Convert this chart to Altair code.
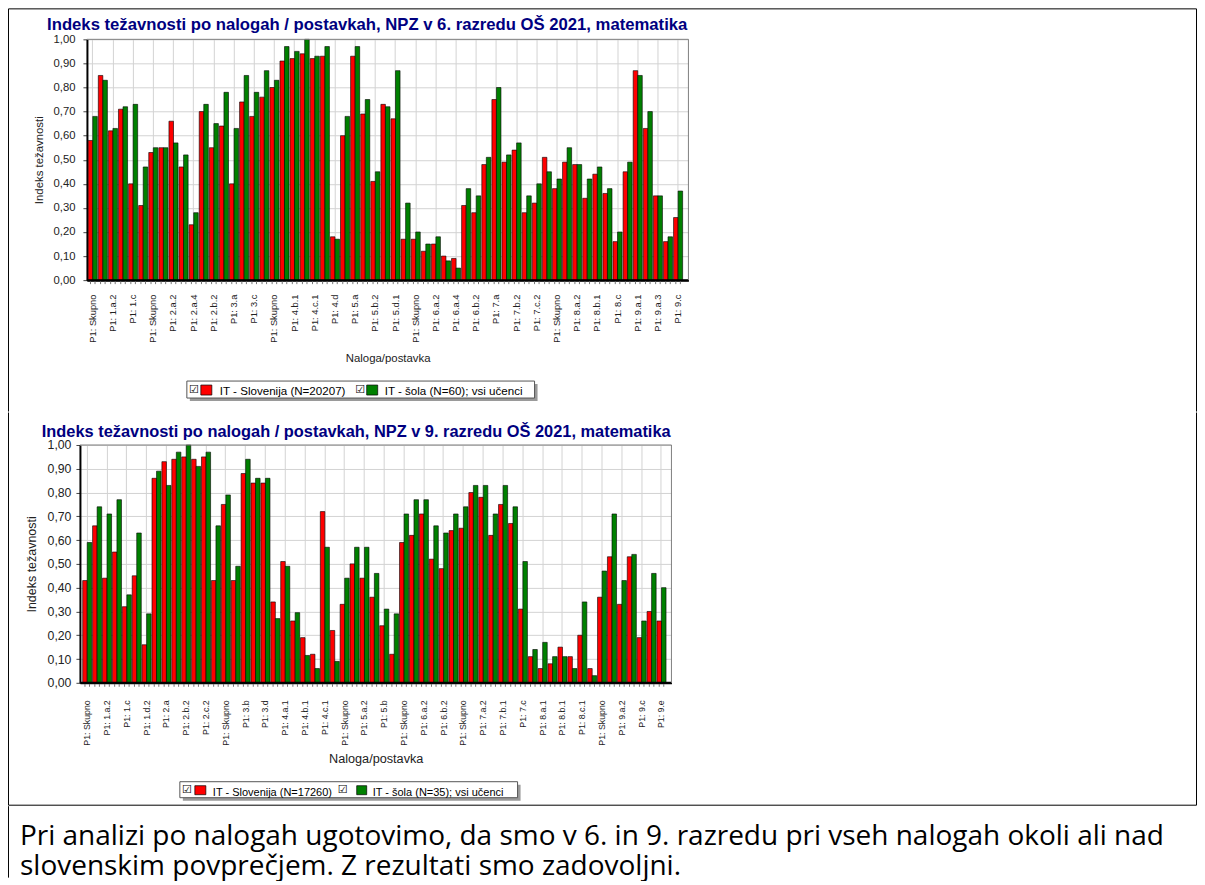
import json
import altair as alt
import pandas as pd

# ---------------- data ----------------
top_title = "Indeks težavnosti po nalogah / postavkah, NPZ v 6. razredu OŠ 2021, matematika"
bottom_title = "Indeks težavnosti po nalogah / postavkah, NPZ v 9. razredu OŠ 2021, matematika"
y_title = "Indeks težavnosti"
x_title = "Naloga/postavka"
series = ["Slovenija", "šola"]
top_legend = ["IT - Slovenija (N=20207)", "IT - šola (N=60); vsi učenci"]
bottom_legend = ["IT - Slovenija (N=17260)", "IT - šola (N=35); vsi učenci"]
note_lines = [
    "Pri analizi po nalogah ugotovimo, da smo v 6. in 9. razredu pri vseh nalogah okoli ali nad",
    "slovenskim povprečjem. Z rezultati smo zadovoljni.",
]
y_ticks = [round(i * 0.1, 1) for i in range(11)]

top_tick_labels = ["P1: Skupno", "P1: 1.a.2", "P1: 1.c", "P1: Skupno", "P1: 2.a.2", "P1: 2.a.4",
                   "P1: 2.b.2", "P1: 3.a", "P1: 3.c", "P1: Skupno", "P1: 4.b.1", "P1: 4.c.1",
                   "P1: 4.d", "P1: 5.a", "P1: 5.b.2", "P1: 5.d.1", "P1: Skupno", "P1: 6.a.2",
                   "P1: 6.a.4", "P1: 6.b.2", "P1: 7.a", "P1: 7.b.2", "P1: 7.c.2", "P1: Skupno",
                   "P1: 8.a.2", "P1: 8.b.1", "P1: 8.c", "P1: 9.a.1", "P1: 9.a.3", "P1: 9.c"]
top_slovenija = [0.58, 0.85, 0.62, 0.71, 0.40, 0.31, 0.53, 0.55, 0.66, 0.47, 0.23, 0.70, 0.55, 0.64,
                 0.40, 0.74, 0.68, 0.76, 0.80, 0.91, 0.92, 0.94, 0.92, 0.93, 0.18, 0.60, 0.93, 0.69,
                 0.41, 0.73, 0.67, 0.17, 0.17, 0.12, 0.15, 0.10, 0.09, 0.31, 0.28, 0.48, 0.75, 0.49,
                 0.54, 0.28, 0.32, 0.51, 0.38, 0.49, 0.48, 0.34, 0.44, 0.36, 0.16, 0.45, 0.87, 0.63,
                 0.35, 0.16, 0.26]
top_sola = [0.68, 0.83, 0.63, 0.72, 0.73, 0.47, 0.55, 0.55, 0.57, 0.52, 0.28, 0.73, 0.65, 0.78,
            0.63, 0.85, 0.78, 0.87, 0.83, 0.97, 0.95, 1.00, 0.93, 0.97, 0.17, 0.68, 0.97, 0.75,
            0.45, 0.72, 0.87, 0.32, 0.20, 0.15, 0.18, 0.08, 0.05, 0.38, 0.35, 0.51, 0.80, 0.52,
            0.57, 0.35, 0.40, 0.45, 0.42, 0.55, 0.48, 0.42, 0.47, 0.38, 0.20, 0.49, 0.85, 0.70,
            0.35, 0.18, 0.37]

bottom_tick_labels = ["P1: Skupno", "P1: 1.a.2", "P1: 1.c", "P1: 1.d.2", "P1: 2.a", "P1: 2.b.2",
                      "P1: 2.c.2", "P1: Skupno", "P1: 3.b", "P1: 3.d", "P1: 4.a.1", "P1: 4.b.1",
                      "P1: 4.c.1", "P1: Skupno", "P1: 5.a.2", "P1: 5.b", "P1: Skupno", "P1: 6.a.2",
                      "P1: 6.b.2", "P1: Skupno", "P1: 7.a.2", "P1: 7.b.1", "P1: 7.c", "P1: 8.a.1",
                      "P1: 8.b.1", "P1: 8.c.1", "P1: Skupno", "P1: 9.a.2", "P1: 9.c", "P1: 9.e"]
bottom_slovenija = [0.43, 0.66, 0.44, 0.55, 0.32, 0.45, 0.16, 0.86, 0.93, 0.94, 0.95, 0.94, 0.95,
                    0.43, 0.75, 0.43, 0.88, 0.84, 0.84, 0.34, 0.51, 0.26, 0.19, 0.12, 0.72, 0.22,
                    0.33, 0.50, 0.44, 0.36, 0.24, 0.12, 0.59, 0.62, 0.71, 0.52, 0.48, 0.64, 0.65,
                    0.80, 0.78, 0.62, 0.75, 0.67, 0.31, 0.11, 0.06, 0.08, 0.15, 0.11, 0.20, 0.06,
                    0.36, 0.53, 0.33, 0.53, 0.19, 0.30, 0.26]
bottom_sola = [0.59, 0.74, 0.71, 0.77, 0.37, 0.63, 0.29, 0.89, 0.83, 0.97, 1.00, 0.91, 0.97,
               0.66, 0.79, 0.49, 0.94, 0.86, 0.86, 0.27, 0.49, 0.295, 0.115, 0.06, 0.57, 0.09,
               0.44, 0.57, 0.57, 0.46, 0.31, 0.29, 0.71, 0.77, 0.77, 0.66, 0.63, 0.71, 0.74,
               0.83, 0.83, 0.71, 0.83, 0.74, 0.51, 0.14, 0.17, 0.11, 0.11, 0.06, 0.34, 0.03,
               0.47, 0.71, 0.43, 0.54, 0.26, 0.46, 0.40]

# ---------------- styling ----------------
RED = "#ff0000"
GREEN = "#008000"
NAVY = "#000080"
FONT = "Liberation Sans"
GRID = "#d3d3d3"
TXT = "#222222"
one = pd.DataFrame({"k": [0]})


def long_df(a, b):
    rows = []
    for i, (r, g) in enumerate(zip(a, b)):
        rows.append({"idx": i, "s": series[0], "v": r})
        rows.append({"idx": i, "s": series[1], "v": g})
    return pd.DataFrame(rows)


def hrule(x1, x2, y, color="black", w=1.0):
    return alt.Chart(one).mark_rule(color=color, strokeWidth=w).encode(
        x=alt.value(x1), x2=alt.value(x2), y=alt.value(y))


def vrule(x, y1, y2, color="black", w=1.0):
    return alt.Chart(one).mark_rule(color=color, strokeWidth=w).encode(
        x=alt.value(x), y=alt.value(y1), y2=alt.value(y2))


def box(x1, y1, x2, y2, fill, stroke=None, w=1.0):
    kw = dict(fill=fill)
    if stroke:
        kw.update(stroke=stroke, strokeWidth=w)
    return alt.Chart(one).mark_rect(**kw).encode(
        x=alt.value(x1), x2=alt.value(x2), y=alt.value(y1), y2=alt.value(y2))


def label(x, y, s, size, font=FONT, color="black", align="left", baseline="alphabetic",
          weight="normal"):
    return alt.Chart(one).mark_text(text=s, font=font, fontSize=size, color=color, align=align,
                                    baseline=baseline, fontWeight=weight).encode(
        x=alt.value(x), y=alt.value(y))


LEFT = -78.5
RIGHT = 1110.5


def panel(p):
    df = long_df(p["red"], p["green"])
    W, H = p["W"], p["H"]
    xr = p["xrange"]
    arr = json.dumps(p["labels"], ensure_ascii=False)
    x_enc = alt.X(
        "idx:O", title=x_title,
        scale=alt.Scale(range=xr, paddingInner=0.1, paddingOuter=p["po"], align=p["align"]),
        axis=alt.Axis(values=list(range(0, len(p["red"]), 2)),
                      labelExpr=f"{arr}[datum.value/2]",
                      labelAngle=-90, labelFont=FONT, labelFontSize=p["xlab_fs"],
                      labelColor=TXT, labelPadding=p["xlab_pad"], labelOverlap=False,
                      ticks=False, tickSize=0, bandPosition=0.5,
                      domain=True, domainColor="black", domainWidth=2,
                      grid=True, gridColor=GRID, gridWidth=1,
                      titleFont=FONT, titleFontSize=p["xt_fs"], titleFontWeight="normal",
                      titleColor=TXT, titlePadding=p["xt_pad"]))
    xo_enc = alt.XOffset("s:N", sort=series, scale=alt.Scale(paddingInner=0, paddingOuter=0))
    y_enc = alt.Y(
        "v:Q", title=y_title, scale=alt.Scale(domain=[0, 1], nice=False),
        axis=alt.Axis(values=y_ticks, labelExpr="replace(format(datum.value, '.2f'), '.', ',')",
                      offset=p["yoff"], domainColor="black", domainWidth=2,
                      tickColor="#444", tickSize=4, labelPadding=p["ylab_pad"],
                      labelFont=FONT, labelFontSize=p["ylab_fs"], labelColor=TXT,
                      grid=True, gridColor=GRID, gridWidth=1,
                      titleFont=FONT, titleFontSize=p["yt_fs"], titleFontWeight="normal",
                      titleColor=TXT, titlePadding=p["yt_pad"]))
    bars = alt.Chart(df).mark_bar(stroke="black", strokeWidth=0.6).encode(
        x=x_enc, xOffset=xo_enc, y=y_enc,
        color=alt.Color("s:N", scale=alt.Scale(domain=series, range=[RED, GREEN]), legend=None))
    minor = alt.Chart(df).mark_rule(color="#777777", strokeWidth=1).encode(
        x=x_enc, xOffset=xo_enc, y=alt.value(H + 1), y2=alt.value(H + 4))

    lg = p["legend"]
    layers = [
        vrule(LEFT, p["by1"], p["by2"]),
        label(p["tx"], p["ty"], p["title"], p["t_fs"], color=NAVY, align="center", weight="bold"),
        bars,
        minor,
        hrule(xr[0], xr[1], H, "black", 2),
        hrule(xr[0], xr[1], 0, "#808080", 1),
        vrule(xr[1], 0, H, "#808080", 1),
        # legend
        box(lg["x1"] + 3, lg["y1"] + 3, lg["x2"] + 3, lg["y2"] + 3, "#9a9a9a"),
        box(lg["x1"], lg["y1"], lg["x2"], lg["y2"], "white", "#555555", 1),
        label(lg["c1"], lg["cy"], "☑", 11, font="DejaVu Sans", align="center", baseline="middle"),
        box(lg["r1"], lg["sy1"], lg["r2"], lg["sy2"], RED, "black", 0.7),
        label(lg["t1"], lg["tb"], lg["texts"][0], lg["fs"]),
        label(lg["c2"], lg["cy"], "☑", 11, font="DejaVu Sans", align="center", baseline="middle"),
        box(lg["g1"], lg["sy1"], lg["g2"], lg["sy2"], GREEN, "black", 0.7),
        label(lg["t2"], lg["tb"], lg["texts"][1], lg["fs"]),
    ]
    if p.get("right_border", True):
        layers.append(vrule(RIGHT, p["by1"], p["by2"]))
    if p.get("top_border"):
        layers.append(hrule(LEFT, RIGHT, p["by1"]))
    if p.get("bottom_border"):
        layers.append(hrule(LEFT, RIGHT, p["by2"]))
    return alt.layer(*layers).properties(width=W, height=H)


top = panel(dict(
    red=top_slovenija, green=top_sola, labels=top_tick_labels, title=top_title, t_fs=16.7,
    W=602, H=241, xrange=[0, 602], po=0.35, align=0.18, yoff=0,
    xlab_fs=9.3, xlab_pad=14, xt_fs=11.4, xt_pad=10,
    ylab_fs=11.3, ylab_pad=8, yt_fs=11.4, yt_pad=8,
    tx=280.5, ty=-9, by1=-30.5, by2=372.5, top_border=True,
    legend=dict(x1=100, y1=342, x2=448, y2=359, c1=107, cy=350.5, r1=114, r2=125,
                sy1=346, sy2=356, t1=133, tb=356, c2=273.5, g1=280, g2=291, t2=298,
                fs=11.6, texts=top_legend),
))

bottom = panel(dict(
    red=bottom_slovenija, green=bottom_sola, labels=bottom_tick_labels, title=bottom_title,
    t_fs=16.4,
    W=585, H=238, xrange=[-7, 585], po=0.42, align=0.33, yoff=7,
    xlab_fs=8.8, xlab_pad=17, xt_fs=12.7, xt_pad=7,
    ylab_fs=12.3, ylab_pad=5, yt_fs=12.5, yt_pad=9,
    tx=269.5, ty=-8, by1=-32.5, by2=360.5, bottom_border=True,
    legend=dict(x1=93, y1=337, x2=431, y2=353, c1=100, cy=345.5, r1=108, r2=119,
                sy1=341, sy2=350, t1=126, tb=351, c2=256, g1=270, g2=280, t2=286,
                fs=11.0, texts=bottom_legend),
))

note = alt.layer(
    vrule(LEFT, 0.5, 72),
    label(-67, 39, note_lines[0], 28, font="Open Sans"),
    label(-67, 69, note_lines[1], 28, font="Open Sans"),
).properties(width=1, height=1)

chart = alt.vconcat(top, bottom, note, spacing=0).properties(padding=0).configure_view(stroke=None)

chart.save("out.html", embed_options={"renderer": "svg", "actions": False})
